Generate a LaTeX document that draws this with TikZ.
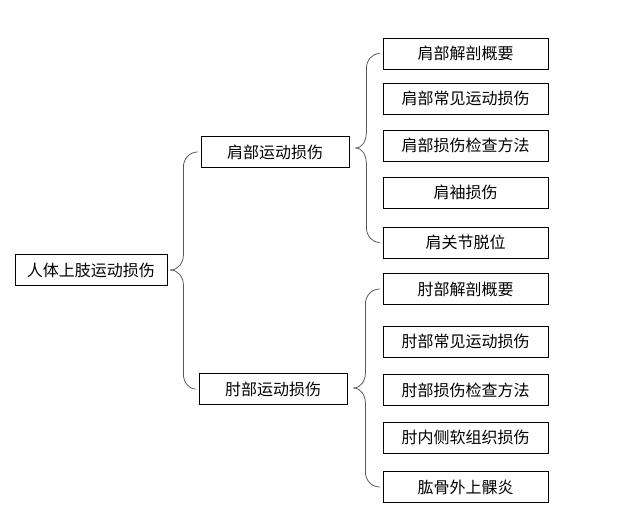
\documentclass[tikz,border=0pt]{standalone}
\usepackage{fontspec}
\setmainfont{Noto Sans CJK SC}
\usetikzlibrary{calc}

\begin{document}
\begin{tikzpicture}[x=1pt, y=-1pt]
			\tikzset{boite/.style={rectangle, draw=black, line width=0.8pt, inner sep=0pt, minimum height=31pt, font=\fontsize{16}{18}\selectfont}, accolade/.style={draw=black!65, line width=0.8pt}};

			\useasboundingbox[fill=white] (0,0) rectangle (625,529);

			\node[boite, minimum width=152pt] (racine) at ( 91,  270) {人体上肢运动损伤};

			\node[boite, minimum width=148pt] (epaule) at (275,  152) {肩部运动损伤};
			\node[boite, minimum width=148pt] (coude)  at (273,  389) {肘部运动损伤};

			\node[boite, minimum width=165pt] (e1) at (465.5,  53.5) {肩部解剖概要};
			\node[boite, minimum width=165pt] (e2) at (465.5,  98.5) {肩部常见运动损伤};
			\node[boite, minimum width=165pt] (e3) at (465.5, 145.5) {肩部损伤检查方法};
			\node[boite, minimum width=165pt] (e4) at (465.5, 192.5) {肩袖损伤};
			\node[boite, minimum width=165pt] (e5) at (465.5, 242.5) {肩关节脱位};

			\node[boite, minimum width=165pt] (c1) at (465.5, 289) {肘部解剖概要};
			\node[boite, minimum width=165pt] (c2) at (465.5, 341.5) {肘部常见运动损伤};
			\node[boite, minimum width=165pt] (c3) at (465.5, 390) {肘部损伤检查方法};
			\node[boite, minimum width=165pt] (c4) at (465.5, 437.5) {肘内侧软组织损伤};
			\node[boite, minimum width=165pt] (c5) at (465.5, 487) {肱骨外上髁炎};

			% pointes des accolades
			\coordinate (m1) at ($(e1.west)!0.5!(e5.west)$);
			\coordinate (m2) at ($(c1.west)!0.5!(c5.west)$);
			\coordinate (p0) at ([xshift=3]racine.east);
			\coordinate (p1) at ([xshift=6]epaule.east |- m1);
			\coordinate (p2) at ([xshift=6]coude.east |- m2);

			\draw[accolade] (p0) to[out=0, in=-90] ([xshift=13, yshift=15]p0) -- ([xshift=13, yshift=-15]p0 |- epaule.west) to[out=90, in=180] ([xshift=-3]epaule.west);
			\draw[accolade] (p0) to[out=0, in=90] ([xshift=13, yshift=-15]p0) -- ([xshift=13, yshift=15]p0 |- coude.west) to[out=-90, in=180] ([xshift=-3]coude.west);

			\draw[accolade] (p1) to[out=0, in=-90] ([xshift=11, yshift=15]p1) -- ([xshift=11, yshift=-15]p1 |- e1.west) to[out=90, in=180] ([xshift=-3]e1.west);
			\draw[accolade] (p1) to[out=0, in=90] ([xshift=11, yshift=-15]p1) -- ([xshift=11, yshift=15]p1 |- e5.west) to[out=-90, in=180] ([xshift=-3]e5.west);

			\draw[accolade] (p2) to[out=0, in=-90] ([xshift=12, yshift=15]p2) -- ([xshift=12, yshift=-15]p2 |- c1.west) to[out=90, in=180] ([xshift=-3]c1.west);
			\draw[accolade] (p2) to[out=0, in=90] ([xshift=12, yshift=-15]p2) -- ([xshift=12, yshift=15]p2 |- c5.west) to[out=-90, in=180] ([xshift=-3]c5.west);

		\end{tikzpicture}
\end{document}
